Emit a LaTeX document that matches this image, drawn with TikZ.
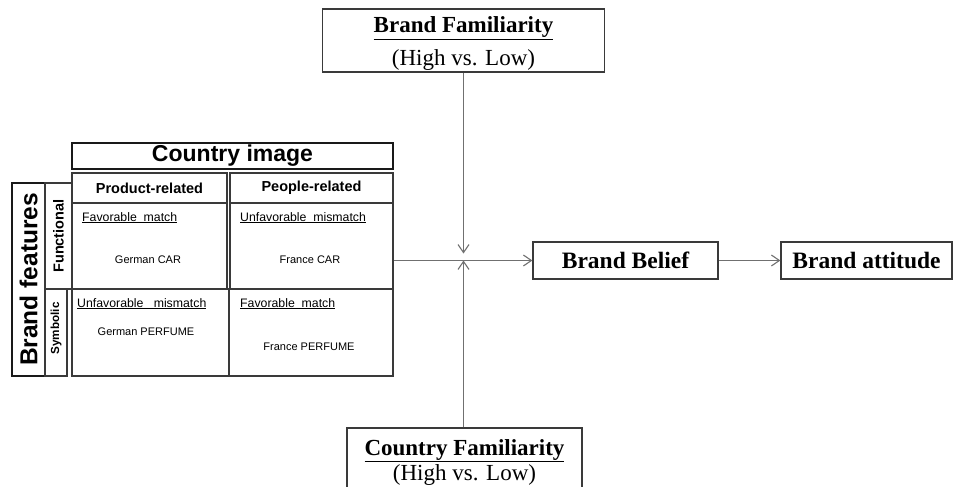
\documentclass[tikz,border=0pt]{standalone}
\usepackage{fontspec}
\setmainfont{Liberation Serif}
\setsansfont{Liberation Sans}
\usetikzlibrary{arrows.meta}
\definecolor{frame}{HTML}{3A3A3A}
\definecolor{conncol}{HTML}{707070}
\begin{document}
\begin{tikzpicture}[x=1pt,y=-1pt,
  bigbox/.style={draw=frame, line width=1.3pt, fill=white, inner sep=0pt, font=\fontsize{22.5}{24}\selectfont},
  cell/.style={draw=frame, line width=1.3pt, inner sep=0pt},
  heavycell/.style={draw=black!90, line width=2.2pt, inner sep=0pt},
  small/.style={inner sep=0pt, font=\sffamily\fontsize{11}{12}\selectfont},
  note/.style={inner sep=0pt, anchor=base west, font=\sffamily\fontsize{12.3}{13}\selectfont},
  conn/.style={draw=conncol, line width=1.1pt, -{Straight Barb[length=8pt,width=11pt,line width=1.1pt]}}
]
\clip (0,0) rectangle (954,487);
\fill[white] (0,0) rectangle (954,487);

% table
\node[heavycell, minimum width=321pt, minimum height=26pt, font=\sffamily\bfseries\fontsize{23}{24}\selectfont] (ci) at (232.5,156) {Country image};
\node[cell, minimum width=155pt, minimum height=30pt, font=\sffamily\bfseries\fontsize{14.5}{15}\selectfont] (pr) at (149.5,188) {Product-related};
\node[cell, minimum width=163pt, minimum height=30pt, font=\sffamily\bfseries\fontsize{14.5}{15}\selectfont] (pe) at (311.5,188) {People-related};
\node[cell, minimum width=155pt, minimum height=86pt] (c11) at (149.5,246) {};
\node[cell, minimum width=163pt, minimum height=86pt] (c12) at (311.5,246) {};
\node[cell, minimum width=157pt, minimum height=87pt] (c21) at (150.5,332.5) {};
\node[cell, minimum width=164pt, minimum height=87pt] (c22) at (311,332.5) {};
\node[heavycell, minimum width=33pt, minimum height=193pt] (bf) at (28.5,279.5) {};
\node[rotate=90, inner sep=0pt, font=\sffamily\bfseries\fontsize{24.5}{25}\selectfont] (bft) at (bf.center) {Brand features};
\node[cell, minimum width=27pt, minimum height=106pt] (fu) at (58.5,236) {};
\node[rotate=90, inner sep=0pt, font=\sffamily\bfseries\fontsize{14.5}{15}\selectfont] (fut) at (fu.center) {Functional};
\node[cell, minimum width=22pt, minimum height=87pt] (sy) at (56,332.5) {};
\node[rotate=90, inner sep=0pt, font=\sffamily\bfseries\fontsize{11.7}{12}\selectfont] (syt) at ([yshift=4pt]sy.center) {Symbolic};

\node[note] (t11) at (82,221) {\underline{Favorable\ \ match}};
\node[small] (g11) at (148,260) {German CAR};
\node[note] (t12) at (240,221) {\underline{Unfavorable\ \ mismatch}};
\node[small] (g12) at (310,260) {France CAR};
\node[note] (t21) at (77,307) {\underline{Unfavorable\ \ \ mismatch}};
\node[small] (g21) at (146,332) {German PERFUME};
\node[note] (t22) at (240,307) {\underline{Favorable\ \ match}};
\node[small] (g22) at (309,347) {France PERFUME};

% moderator boxes
\node[bigbox, minimum width=282pt, minimum height=63pt] (bfam) at (463.5,40.5) {};
\node[inner sep=0pt, anchor=base, font=\bfseries\fontsize{23}{24}\selectfont] (bfam1) at (463.5,33) {\underline{Brand Familiarity}};
\node[inner sep=0pt, anchor=base, font=\fontsize{23}{24}\selectfont] (bfam2) at (463.5,66) {(High vs. Low)};

\node[bigbox, minimum width=235pt, minimum height=67pt] (cfam) at (464.5,461.5) {};
\node[inner sep=0pt, anchor=base, font=\bfseries\fontsize{23}{24}\selectfont] (cfam1) at (464.5,455) {\underline{Country Familiarity}};
\node[inner sep=0pt, anchor=base, font=\fontsize{23}{24}\selectfont] (cfam2) at (464.5,480) {(High vs. Low)};

\node[bigbox, minimum width=185pt, minimum height=37pt, font=\bfseries\fontsize{23.5}{24}\selectfont] (bbel) at (625.5,260.5) {Brand Belief};
\node[bigbox, minimum width=171pt, minimum height=37pt, font=\bfseries\fontsize{23.5}{24}\selectfont] (batt) at (866.5,260.5) {Brand attitude};

\coordinate (jn) at (463.5,260.5);

% connectors
\draw[conn, shorten >=7pt] (bfam.south -| jn) -- (jn);
\draw[conn] (cfam.north -| jn) -- (jn);
\draw[conn] (c12.east |- jn) -- (bbel.west);
\draw[conn] (bbel.east) -- (batt.west);
\end{tikzpicture}
\end{document}
